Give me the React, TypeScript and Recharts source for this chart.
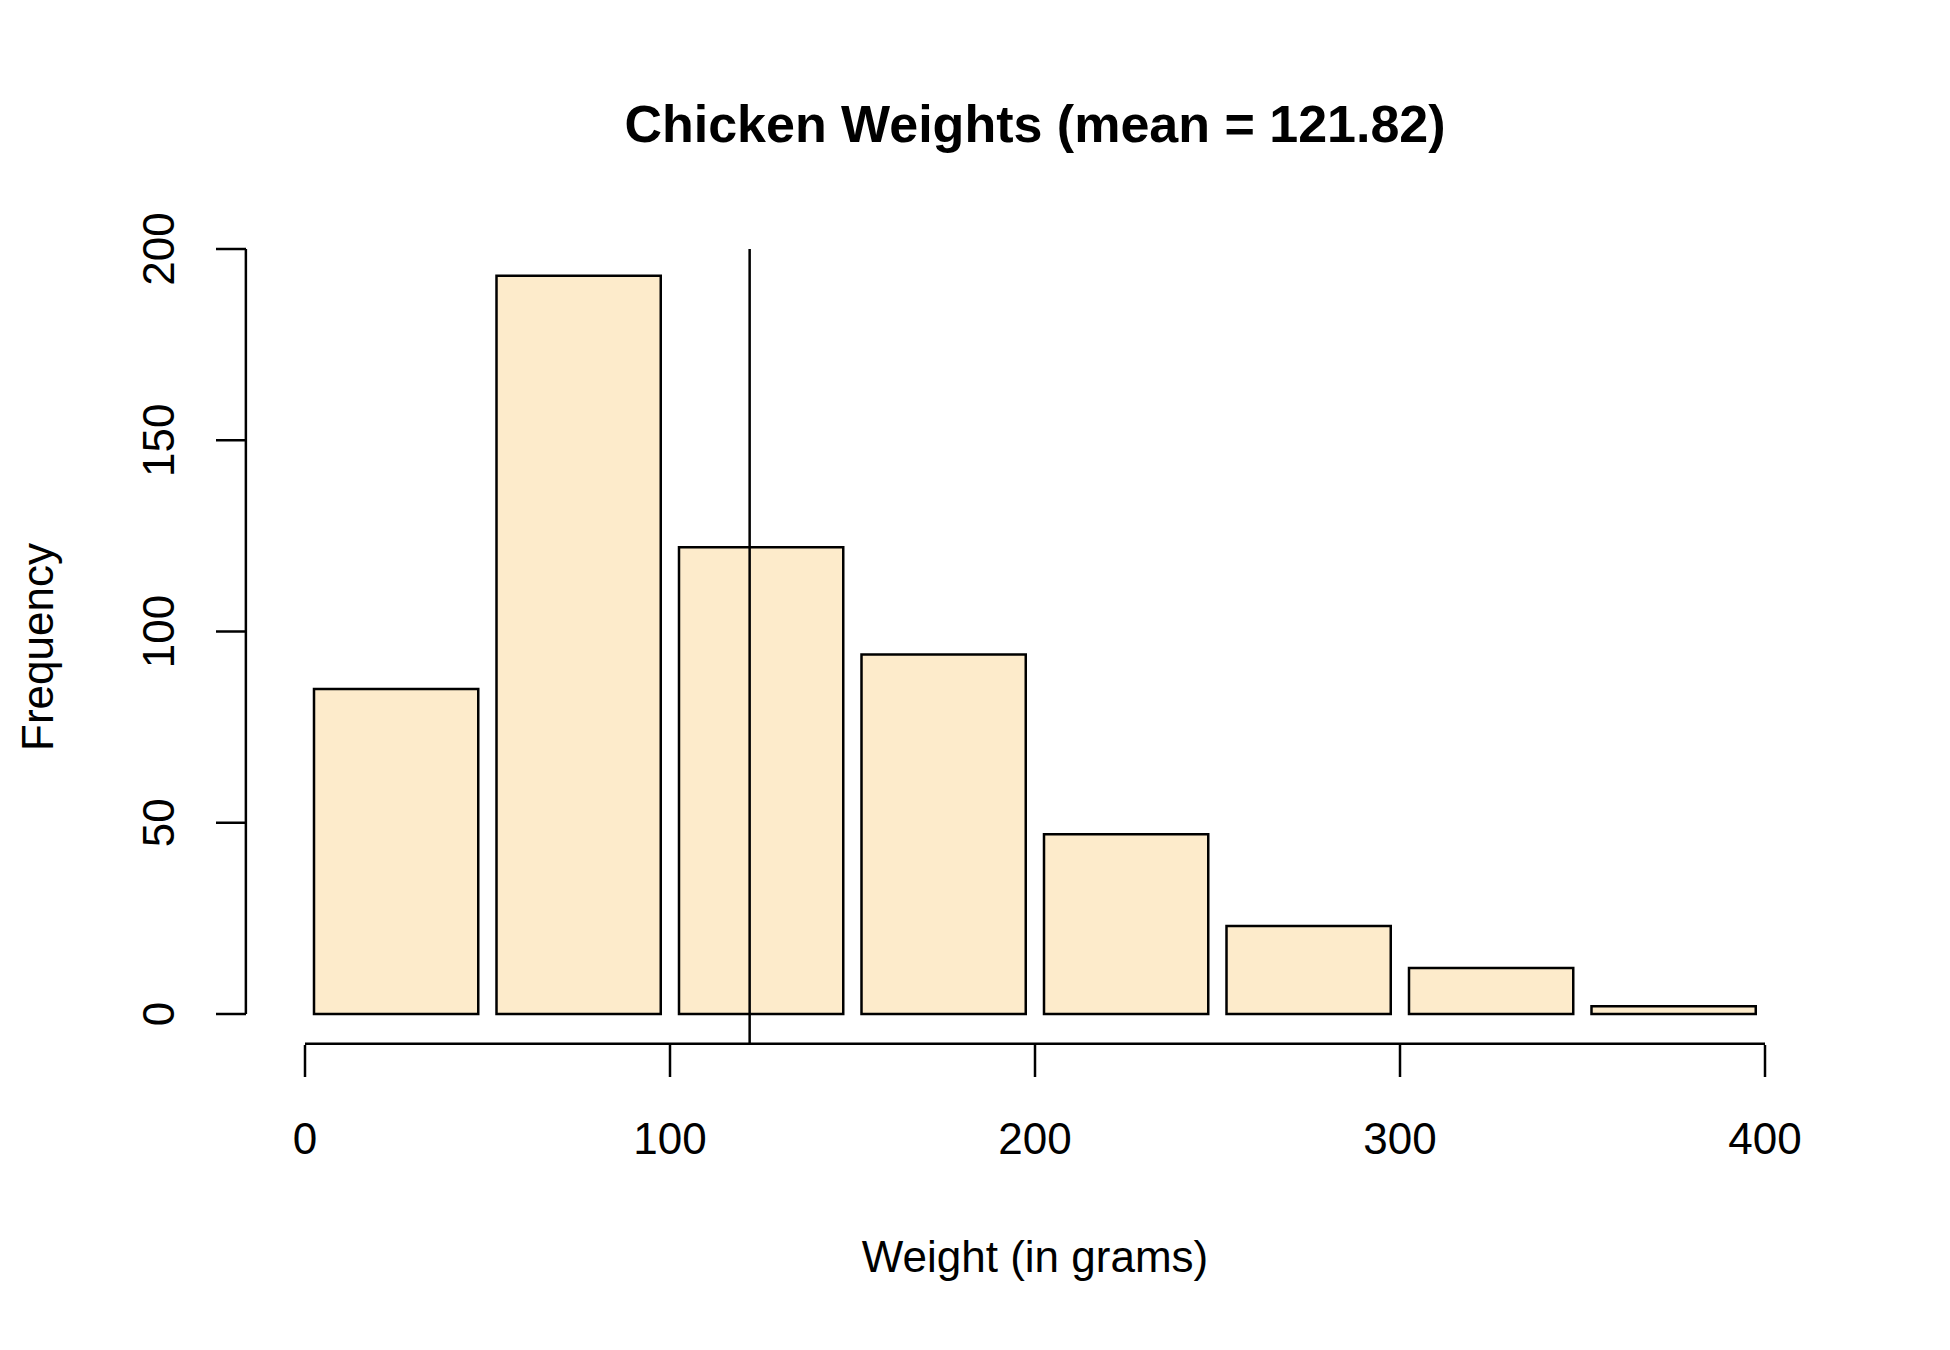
import React from 'react'
import { ComposedChart, Bar, XAxis, YAxis, ReferenceLine } from 'recharts'

const binMids = [25, 75, 125, 175, 225, 275, 325, 375]
const counts = [85, 193, 122, 94, 47, 23, 12, 2]
const xTicks = [0, 100, 200, 300, 400]
const yTicks = [0, 50, 100, 150, 200]
const meanWeight = 121.82

const data = binMids.map((m, i) => ({ mid: m, count: counts[i] }))
const font = 'Liberation Sans, Arial, sans-serif'

const XTick = (p: any) => (
  <g>
    <line x1={p.x} x2={p.x} y1={1045} y2={1077} stroke="#000" strokeWidth={2.5} />
    <text x={p.x} y={1138} textAnchor="middle" dominantBaseline="central" fontSize={44} fontFamily={font}>
      {p.payload.value}
    </text>
  </g>
)

const YTick = (p: any) => (
  <g>
    <line x1={246} x2={216} y1={p.y} y2={p.y} stroke="#000" strokeWidth={2.5} />
    <text x={158} y={p.y} transform={`rotate(-90 158 ${p.y})`} textAnchor="middle" dominantBaseline="central" fontSize={44} fontFamily={font}>
      {p.payload.value}
    </text>
  </g>
)

export default function App() {
  return (
    <div style={{ position: 'absolute', left: 0, top: 0, background: '#fff' }}>
      <ComposedChart width={1950} height={1350} data={data}
        margin={{ top: 249, right: 185, left: 245, bottom: 335 }}>
        <XAxis dataKey="mid" type="number" domain={[0, 400]} ticks={xTicks} axisLine={false} tickLine={false} tick={<XTick />} height={1} padding={{ left: 0, right: 0 }} />
        <YAxis type="number" domain={[0, 200]} ticks={yTicks} axisLine={false} tickLine={false} tick={<YTick />} width={60} />
        <Bar dataKey="count" barSize={182.5} fill="#FDEBCB" stroke="#000" strokeWidth={2.5} isAnimationActive={false} />
        <ReferenceLine segment={[{ x: 0, y: -7.8 }, { x: 400, y: -7.8 }]} stroke="#000" strokeWidth={2.5} ifOverflow="visible" />
        <ReferenceLine segment={[{ x: -16.2, y: 0 }, { x: -16.2, y: 200 }]} stroke="#000" strokeWidth={2.5} ifOverflow="visible" />
        <ReferenceLine segment={[{ x: meanWeight, y: -7.8 }, { x: meanWeight, y: 200 }]} stroke="#000" strokeWidth={2.5} ifOverflow="visible" />
        <text x={1035} y={124} textAnchor="middle" dominantBaseline="central" fontSize={52} fontWeight="bold" fontFamily={font}>
          Chicken Weights (mean = 121.82)
        </text>
        <text x={1035} y={1256} textAnchor="middle" dominantBaseline="central" fontSize={44} fontFamily={font}>
          Weight (in grams)
        </text>
        <text x={37} y={647} transform="rotate(-90 37 647)" textAnchor="middle" dominantBaseline="central" fontSize={44} fontFamily={font}>
          Frequency
        </text>
      </ComposedChart>
    </div>
  )
}
